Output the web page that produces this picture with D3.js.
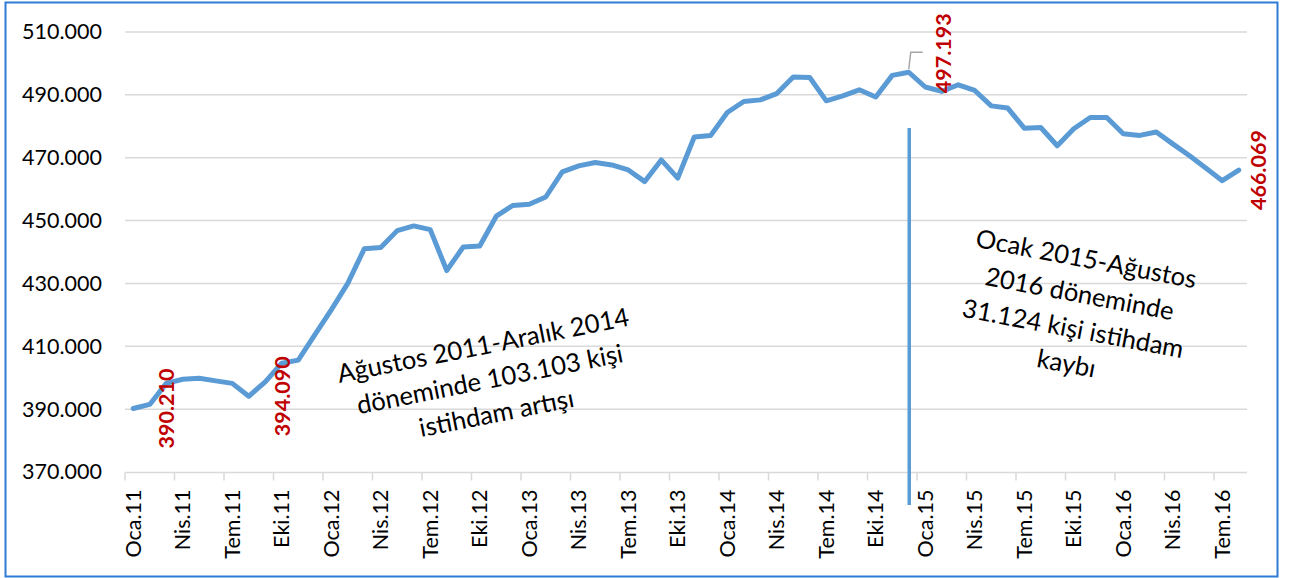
<!DOCTYPE html>
<html>
<head>
<meta charset="utf-8">
<script src="https://cdn.jsdelivr.net/npm/d3@7"></script>
<style>
  html, body { margin: 0; padding: 0; background: #fff; }
  svg { display: block; }
  text { font-family: Lato, "Open Sans", sans-serif; }
</style>
</head>
<body>
<svg id="chart" width="1289" height="578"></svg>
<script>
// ---------- data ----------
const monthNames = ["Oca", "Şub", "Mar", "Nis", "May", "Haz", "Tem", "Ağu", "Eyl", "Eki", "Kas", "Ara"];
const years = ["11", "12", "13", "14", "15", "16"];
const lastMonthCount = 8; // data ends Ağustos 2016

// employed persons, monthly Oca.11 – Ağu.16
const values = [
  390210, 391500, 398200, 399500, 399800, 399000, 398200, 394090, 398700, 404600, 405600, 413600,
  421600, 430000, 441000, 441400, 446800, 448300, 447100, 434100, 441600, 441900, 451400, 454800,
  455200, 457500, 465500, 467400, 468500, 467700, 466100, 462400, 469300, 463500, 476600, 477100,
  484400, 487900, 488400, 490400, 495700, 495500, 488100, 489700, 491600, 489300, 496200, 497193,
  492500, 491100, 493200, 491400, 486500, 485800, 479400, 479600, 473800, 479200, 482800, 482800,
  477600, 477100, 478200, 474400, 470700, 466700, 462700, 466069
];

const yTicks = [370000, 390000, 410000, 430000, 450000, 470000, 490000, 510000];
const labelledIdx = [0, 7, 47, 67];
const note1 = ["Ağustos 2011-Aralık 2014", "döneminde 103.103 kişi", "istihdam artışı"];
const note2 = ["Ocak 2015-Ağustos", "2016 döneminde", "31.124 kişi istihdam", "kaybı"];
const splitIdx = 47; // Aralık 2014

// categories built from month / year lists
const categories = [];
years.forEach((y, yi) => {
  monthNames.forEach((m, mi) => {
    if (yi < years.length - 1 || mi < lastMonthCount) categories.push(m + "." + y);
  });
});

// ---------- drawing ----------
const svg = d3.select("#chart");
const lineColor = "#5B9BD5";
const gridColor = "#d9d9d9";
const red = "#C00000";

// outer border
svg.append("rect")
  .attr("x", 5.5).attr("y", 2.5).attr("width", 1272).attr("height", 574)
  .attr("fill", "#fff").attr("stroke", "#2E7BD6").attr("stroke-width", 2);

const x = d3.scaleBand().domain(categories).range([125, 1247]).paddingInner(0).paddingOuter(0);
const y = d3.scaleLinear().domain([370000, 510000]).range([472, 32]);
const bw = x.bandwidth();
const cx = i => x(categories[i]) + bw / 2;

const fmt = v => d3.format(",.0f")(v).replace(/,/g, ".");

// gridlines
svg.append("g").selectAll("line").data(yTicks.slice(1)).join("line")
  .attr("x1", 125).attr("x2", 1247)
  .attr("y1", d => y(d)).attr("y2", d => y(d))
  .attr("stroke", gridColor).attr("stroke-width", 1.5);

// y axis labels
const yAxis = d3.axisLeft(y).tickValues(yTicks).tickSize(0).tickPadding(0).tickFormat(fmt);
const gy = svg.append("g").attr("transform", "translate(102,0)").call(yAxis);
gy.select(".domain").remove();
gy.selectAll("text").attr("font-size", 21.5).attr("fill", "#000").attr("font-family", "Lato, sans-serif");

// x axis
const tickCats = categories.filter((c, i) => i % 3 === 0);
const xAxis = d3.axisBottom(x).tickValues(tickCats).tickSize(8).tickPadding(0);
const gx = svg.append("g").attr("transform", "translate(0,472.5)").call(xAxis);
gx.select(".domain").attr("stroke", gridColor).attr("stroke-width", 1.5)
  .attr("d", "M125,0H1247");
gx.selectAll(".tick line").attr("stroke", gridColor).attr("stroke-width", 1.5)
  .attr("transform", `translate(${-bw / 2},0)`);
gx.selectAll(".tick text")
  .attr("font-size", 21.5).attr("fill", "#000").attr("font-family", "Lato, sans-serif")
  .attr("text-anchor", "end").attr("dy", "0.35em")
  .attr("transform", "translate(0,17) rotate(-90)")
  .attr("y", 0).attr("x", 0);

// vertical split line
svg.append("line")
  .attr("x1", cx(splitIdx) + 0.5).attr("x2", cx(splitIdx) + 0.5)
  .attr("y1", 128).attr("y2", 505)
  .attr("stroke", lineColor).attr("stroke-width", 3.5);

// data line
const line = d3.line().x((d, i) => cx(i)).y(d => y(d)).curve(d3.curveLinear);
svg.append("path").datum(values)
  .attr("d", line).attr("fill", "none")
  .attr("stroke", lineColor).attr("stroke-width", 5)
  .attr("stroke-linejoin", "round").attr("stroke-linecap", "round");

// leader line for peak label
const pk = [cx(47), y(values[47])];
svg.append("path")
  .attr("d", `M${pk[0]},${pk[1] - 3}L${pk[0] + 2},${pk[1] - 20}L${pk[0] + 14},${pk[1] - 20}`)
  .attr("fill", "none").attr("stroke", "#a6a6a6").attr("stroke-width", 1.5);

// data labels
const labelOffset = { 0: [33, 0], 7: [33, 0], 47: [34, -19], 67: [19, 0] };
svg.append("g").selectAll("text").data(labelledIdx).join("text")
  .attr("transform", i => `translate(${cx(i) + labelOffset[i][0]},${y(values[i]) + labelOffset[i][1]}) rotate(-90)`)
  .attr("text-anchor", "middle").attr("dy", "0.36em")
  .attr("font-size", 21.5).attr("font-weight", "bold").attr("fill", red)
  .attr("font-family", "Lato, sans-serif")
  .text(i => fmt(values[i]));

// annotations
function note(lines, cxp, cyp, angle, targetWidth, spacing) {
  const g = svg.append("g").attr("transform", `translate(${cxp},${cyp}) rotate(${angle})`);
  const t = g.selectAll("text").data(lines).join("text")
    .attr("text-anchor", "middle").attr("font-size", 28).attr("fill", "#000")
    .attr("font-family", "Lato, sans-serif")
    .attr("x", 0).attr("y", (d, i) => (i - 1) * spacing)
    .text(d => d);
  const w = t.nodes()[0].getComputedTextLength();
  const fs = 28 * targetWidth / w;
  t.attr("font-size", fs);
}
note(note1, 491.5, 388, -11.2, 297, 34.5);
note(note2, 1078, 302.5, 10.7, 224, 35.5);
</script>
</body>
</html>
